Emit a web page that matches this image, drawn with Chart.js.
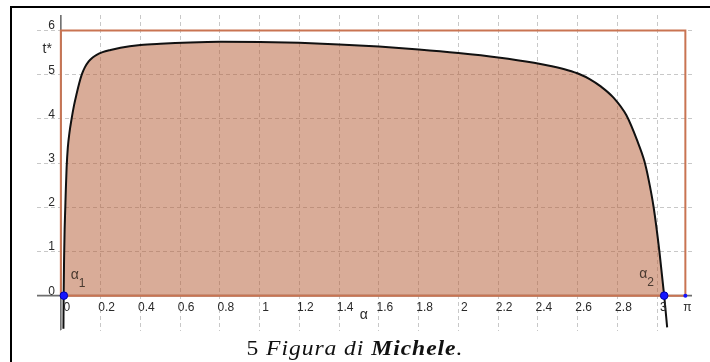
<!DOCTYPE html>
<html>
<head>
<meta charset="utf-8">
<script src="https://cdn.jsdelivr.net/npm/chart.js@4/dist/chart.umd.min.js"></script>
<style>
  html, body { margin: 0; padding: 0; background: #fff; }
  #wrap { position: relative; width: 710px; height: 362px; overflow: hidden; }
  #frame { position: absolute; left: 10px; top: 6px; width: 800px; height: 400px;
           border-left: 2px solid #000; border-top: 2px solid #000; pointer-events: none; }
  #caption { position: absolute; left: 0; width: 710px; top: 337px; line-height: 22px;
             text-align: center; font-family: "Liberation Serif", "DejaVu Serif", serif;
             font-size: 20px; color: #111; }
  #caption span { display: inline-block; letter-spacing: 0.8px; transform: scaleX(1.18);
                  transform-origin: center; }
  #caption i { font-style: italic; }
</style>
</head>
<body>
<div id="wrap">
  <canvas id="c" width="710" height="362"></canvas>
  <div id="frame"></div>
  <div id="caption"><span>5 <i>Figura di <b>Michele</b>.</i></span></div>
</div>
<script>
// t*(α): sampled along the curve
const alpha = [0.013, 0.014, 0.0165, 0.019, 0.022, 0.025, 0.029, 0.035, 0.043, 0.054, 0.066, 0.080, 0.092, 0.105,
  0.12, 0.14, 0.16, 0.18, 0.21, 0.25, 0.30, 0.40, 0.50, 0.65, 0.80, 1.0, 1.2, 1.4, 1.6, 1.8, 2.0, 2.2, 2.38, 2.47,
  2.55, 2.61, 2.66, 2.714, 2.78, 2.845, 2.90, 2.935, 2.957, 2.982, 3.011, 3.035, 3.05];
const tStar = [-0.75, 0, 0.9, 1.5, 1.95, 2.4, 2.9, 3.35, 3.68, 4.0, 4.3, 4.58, 4.8, 5.0,
  5.16, 5.3, 5.39, 5.45, 5.51, 5.56, 5.61, 5.67, 5.70, 5.73, 5.745, 5.74, 5.72, 5.685, 5.635, 5.57, 5.49, 5.39, 5.27, 5.19,
  5.10, 5.01, 4.90, 4.74, 4.48, 4.08, 3.50, 3.05, 2.62, 2.0, 1.0, 0, -0.72];

// zeros of t*(α)
const rootAlpha = [0.015, 3.035];
const rootNames = ['1', '2'];

// bounding rectangle [0, π] × [0, 6]
const rectAlpha = [0, 0, Math.PI, Math.PI, 0];
const rectT = [0, 6, 6, 0, 0];

// axis ticks
const xTicks = [0, 0.2, 0.4, 0.6, 0.8, 1, 1.2, 1.4, 1.6, 1.8, 2, 2.2, 2.4, 2.6, 2.8, 3];
const xTickLabels = ['0', '0.2', '0.4', '0.6', '0.8', '1', '1.2', '1.4', '1.6', '1.8', '2', '2.2', '2.4', '2.6', '2.8', '3'];
const yTicks = [0, 1, 2, 3, 4, 5, 6];
const yTickLabels = ['0', '1', '2', '3', '4', '5', '6'];

const curvePts = alpha.map((a, i) => ({ x: a, y: tStar[i] }));
const rectPts = rectAlpha.map((a, i) => ({ x: a, y: rectT[i] }));
const rootPts = rootAlpha.map(a => ({ x: a, y: 0 }));
const piPts = [{ x: Math.PI, y: 0 }];

const ORANGE = 'rgb(201,116,82)';
const LIGHT = 'rgba(180,90,50,0.075)';
const TAN = 'rgba(180,90,50,0.50)';

// axes drawn under the shapes, GeoGebra style
const axesPlugin = {
  id: 'axes',
  beforeDatasetsDraw(chart) {
    const { ctx, chartArea: a, scales: { x, y } } = chart;
    const x0 = x.getPixelForValue(0), y0 = y.getPixelForValue(0);
    ctx.save();
    ctx.strokeStyle = '#6e6e6e';
    ctx.lineWidth = 1.6;
    ctx.beginPath();
    ctx.moveTo(a.left, y0); ctx.lineTo(a.right - 1, y0);
    ctx.moveTo(x0, a.top); ctx.lineTo(x0, a.bottom - 1);
    ctx.stroke();
    ctx.restore();
  }
};

// tick labels and annotations
const labelPlugin = {
  id: 'labels',
  afterDatasetsDraw(chart) {
    const { ctx, scales: { x, y } } = chart;
    const x0 = x.getPixelForValue(0), y0 = y.getPixelForValue(0);
    ctx.save();
    ctx.fillStyle = '#2a2a2a';
    ctx.font = '12px "Liberation Sans", Arial, sans-serif';
    ctx.textAlign = 'center';
    ctx.textBaseline = 'middle';
    xTicks.forEach((v, i) => {
      ctx.fillText(xTickLabels[i], x.getPixelForValue(v) + 6, y0 + 12);
    });
    ctx.fillText('π', x.getPixelForValue(Math.PI) + 2, y0 + 12);
    ctx.textAlign = 'right';
    ctx.textBaseline = 'alphabetic';
    yTicks.forEach((v, i) => {
      ctx.fillText(yTickLabels[i], x0 - 6, y.getPixelForValue(v) - 1);
    });
    // axis names
    ctx.font = '14px "Liberation Sans", Arial, sans-serif';
    ctx.textBaseline = 'middle';
    ctx.textAlign = 'right';
    ctx.fillText('t*', x0 - 9, y.getPixelForValue(5.57));
    ctx.textAlign = 'center';
    ctx.fillText('α', x.getPixelForValue(1.524), y.getPixelForValue(-0.45));
    // root names
    ctx.fillStyle = '#4a3a30';
    ctx.textAlign = 'left';
    ctx.textBaseline = 'alphabetic';
    const offs = [[7, -17], [-25, -18]];
    rootAlpha.forEach((a, i) => {
      const px = x.getPixelForValue(a) + offs[i][0];
      const py = y0 + offs[i][1];
      ctx.font = '14px "Liberation Sans", Arial, sans-serif';
      ctx.fillText('α', px, py);
      ctx.font = '12px "Liberation Sans", Arial, sans-serif';
      ctx.fillText(rootNames[i], px + 8, py + 8);
    });
    ctx.restore();
  }
};

new Chart(document.getElementById('c'), {
  type: 'line',
  data: {
    datasets: [
      { data: rectPts, order: 6, borderWidth: 0, borderColor: 'rgba(0,0,0,0)', backgroundColor: LIGHT,
        fill: 'origin', pointRadius: 0, tension: 0 },
      { data: curvePts, order: 5, borderWidth: 0, borderColor: 'rgba(0,0,0,0)',
        fill: { target: 'origin', above: TAN, below: 'rgba(0,0,0,0)' },
        pointRadius: 0, cubicInterpolationMode: 'monotone' },
      { data: rectPts, order: 4, borderWidth: 2, borderColor: ORANGE, fill: false, pointRadius: 0, tension: 0 },
      { data: curvePts, order: 3, borderWidth: 2, borderColor: '#111', fill: false,
        pointRadius: 0, cubicInterpolationMode: 'monotone' },
      { data: rootPts, order: 2, showLine: false, pointRadius: 3.8, pointBackgroundColor: '#1515ff',
        pointBorderColor: '#0000a8', pointBorderWidth: 1 },
      { data: piPts, order: 1, showLine: false, pointRadius: 2, pointBackgroundColor: '#1515ff',
        pointBorderColor: '#1515ff', pointBorderWidth: 0 }
    ]
  },
  options: {
    responsive: false,
    animation: false,
    events: [],
    layout: { padding: { left: 37, right: 17, top: 15, bottom: 31 } },
    plugins: { legend: { display: false }, tooltip: { enabled: false }, title: { display: false } },
    scales: {
      x: {
        type: 'linear', min: -0.12, max: 3.18,
        afterBuildTicks: s => { s.ticks = xTicks.map(v => ({ value: v })); },
        ticks: { display: false },
        grid: { color: '#c8c8c8', lineWidth: 1, drawTicks: false },
        border: { display: false, dash: [4, 3] }
      },
      y: {
        type: 'linear', min: -0.8, max: 6.35,
        afterBuildTicks: s => { s.ticks = yTicks.map(v => ({ value: v })); },
        ticks: { display: false },
        grid: { color: '#c8c8c8', lineWidth: 1, drawTicks: false },
        border: { display: false, dash: [4, 3] }
      }
    }
  },
  plugins: [axesPlugin, labelPlugin]
});
</script>
</body>
</html>
